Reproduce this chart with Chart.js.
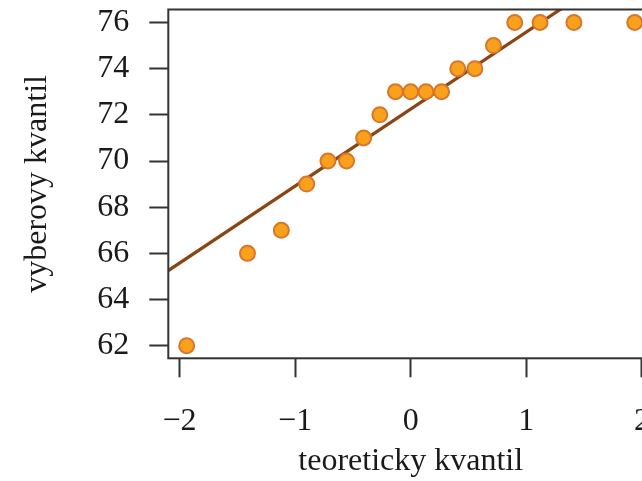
<!DOCTYPE html>
<html>
<head>
<meta charset="utf-8">
<script src="https://cdn.jsdelivr.net/npm/chart.js@4.4.1/dist/chart.umd.min.js"></script>
<style>
  html, body { margin: 0; padding: 0; background: #ffffff; overflow: hidden; width: 642px; height: 481px; }
  #wrap { position: relative; width: 680px; height: 481px; }
</style>
</head>
<body>
<div id="wrap"><canvas id="c"></canvas></div>
<script>
// Theoretical normal quantiles (n = 19)
const theoreticalQuantiles = [-1.938, -1.412, -1.119, -0.900, -0.716, -0.555, -0.407, -0.267, -0.132, 0.000,
                              0.132, 0.267, 0.407, 0.555, 0.716, 0.900, 1.119, 1.412, 1.938];
// Sample quantiles (sorted observations)
const sampleQuantiles = [62, 66, 67, 69, 70, 70, 71, 72, 73, 73, 73, 73, 74, 74, 75, 76, 76, 76, 76];
const xTickValues = [-2, -1, 0, 1, 2];
const yTickValues = [62, 64, 66, 68, 70, 72, 74, 76];
const xAxisTitle = 'teoreticky kvantil';
const yAxisTitle = 'vyberovy kvantil';

// qqline: through the first and third quartiles (R type 7 quantiles)
function quantile7(arr, p) {
  const s = arr.slice().sort((a, b) => a - b);
  const h = (s.length - 1) * p;
  const lo = Math.floor(h), hi = Math.ceil(h);
  return s[lo] + (h - lo) * (s[hi] - s[lo]);
}
const zq = 0.6744897501960817;
const yq1 = quantile7(sampleQuantiles, 0.25), yq3 = quantile7(sampleQuantiles, 0.75);
const slope = (yq3 - yq1) / (2 * zq);
const intercept = yq1 + zq * slope;

const X_MIN = -2.097, X_MAX = 2.097, Y_MIN = 61.455, Y_MAX = 76.563;
const linePts = [X_MIN, X_MAX].map(x => ({ x: x, y: intercept + slope * x }));
const points = theoreticalQuantiles.map((x, i) => ({ x: x, y: sampleQuantiles[i] }));

const FONT = { family: '"Liberation Serif", "Times New Roman", serif', size: 32 };
const AXIS_COLOR = '#333333';
const TEXT_COLOR = '#1a1a1a';

const boxPlugin = {
  id: 'box',
  afterDraw(chart) {
    const a = chart.chartArea, ctx = chart.ctx;
    ctx.save();
    ctx.strokeStyle = AXIS_COLOR;
    ctx.lineWidth = 2;
    ctx.strokeRect(a.left, a.top, a.right - a.left, a.bottom - a.top);
    ctx.restore();
  }
};

new Chart(document.getElementById('c'), {
  type: 'scatter',
  data: {
    datasets: [
      {
        type: 'line',
        data: linePts,
        borderColor: '#8B4513',
        borderWidth: 3.2,
        pointRadius: 0,
        fill: false,
        order: 2
      },
      {
        data: points,
        backgroundColor: '#F9A11C',
        borderColor: '#D8762A',
        borderWidth: 2,
        pointRadius: 7.5,
        pointHoverRadius: 7.5,
        order: 1
      }
    ]
  },
  options: {
    responsive: true,
    maintainAspectRatio: false,
    animation: false,
    devicePixelRatio: 1,
    layout: { padding: { left: 0, top: 9.3, right: 26.9, bottom: 0 } },
    plugins: { legend: { display: false }, tooltip: { enabled: false } },
    scales: {
      x: {
        type: 'linear',
        min: X_MIN, max: X_MAX,
        afterBuildTicks(s) { s.ticks = xTickValues.map(v => ({ value: v })); },
        afterFit(s) { s.height = 122.7; s.paddingLeft = 0; s.paddingRight = 0; },
        border: { display: false },
        grid: { display: true, drawOnChartArea: false, drawTicks: true, tickLength: 19, tickWidth: 2, tickColor: AXIS_COLOR },
        ticks: {
          font: FONT, color: TEXT_COLOR, padding: 25, maxRotation: 0, autoSkip: false,
          callback: v => (v < 0 ? '\u2212' + Math.abs(v) : String(v))
        },
        title: { display: true, text: xAxisTitle, font: FONT, color: TEXT_COLOR, padding: 0 }
      },
      y: {
        type: 'linear',
        min: Y_MIN, max: Y_MAX,
        afterBuildTicks(s) { s.ticks = yTickValues.map(v => ({ value: v })); },
        afterFit(s) { s.width = 168.3; s.paddingTop = 0; s.paddingBottom = 0; },
        border: { display: false },
        grid: { display: true, drawOnChartArea: false, drawTicks: true, tickLength: 19, tickWidth: 2, tickColor: AXIS_COLOR },
        ticks: { font: FONT, color: TEXT_COLOR, padding: 20, autoSkip: false },
        title: { display: true, text: yAxisTitle, font: FONT, color: TEXT_COLOR, padding: { top: 18, bottom: 0 } }
      }
    }
  },
  plugins: [boxPlugin]
});
</script>
</body>
</html>
